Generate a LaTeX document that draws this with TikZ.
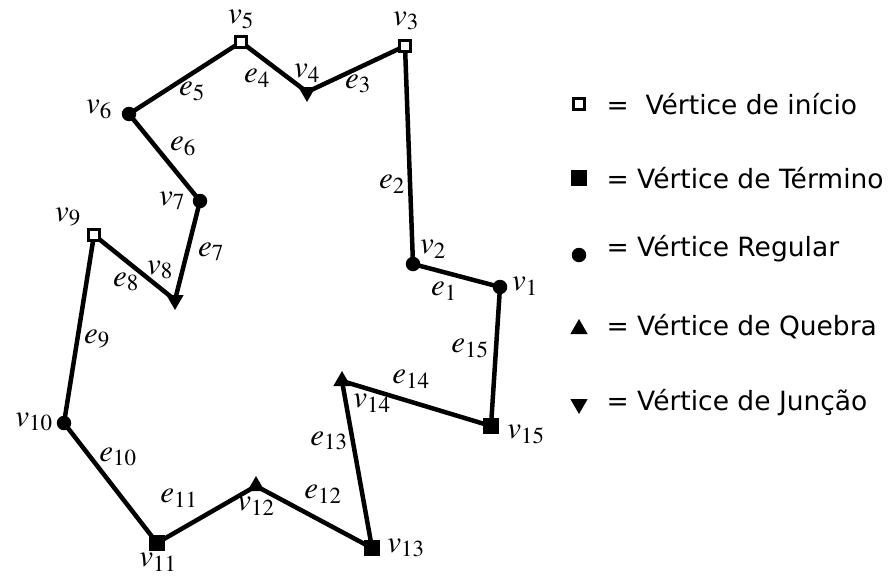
\documentclass[tikz,border=0pt]{standalone}
\usepackage{mathptmx}
\usepackage{fontspec}
\setsansfont{DejaVu Sans}
\usetikzlibrary{shapes.geometric,backgrounds}

\tikzset{
  inicio/.style={draw, line width=3.2pt, fill=white, minimum size=11pt, inner sep=0pt},
  termino/.style={fill=black, minimum size=15.5pt, inner sep=0pt},
  regular/.style={circle, fill=black, minimum size=14.5pt, inner sep=0pt},
  quebra/.style={regular polygon, regular polygon sides=3, fill=black, minimum size=20pt, inner sep=0pt},
  juncao/.style={quebra, shape border rotate=180},
  rot/.style={font=\fontsize{31}{35}\selectfont},
  leg/.style={anchor=west, font=\sffamily\fontsize{26.5}{32}\selectfont},
  aresta/.style={line width=4.5pt}
}

\begin{document}
\begin{tikzpicture}[x=1pt,y=-1pt]
  \useasboundingbox (0,0) rectangle (891,578);

  % vertices
  \node[regular] (v1) at (500,287) {};
  \node[regular] (v2) at (413,264) {};
  \node[inicio]  (v3) at (405,46) {};
  \node[juncao]  (v4) at (307,92) {};
  \node[inicio]  (v5) at (241,42) {};
  \node[regular] (v6) at (129,114) {};
  \node[regular] (v7) at (200,201) {};
  \node[juncao]  (v8) at (175,300) {};
  \node[inicio]  (v9) at (94,235) {};
  \node[regular] (v10) at (64,423) {};
  \node[termino] (v11) at (157,543) {};
  \node[quebra]  (v12) at (256,486) {};
  \node[termino] (v13) at (372,548) {};
  \node[quebra]  (v14) at (342,381) {};
  \node[termino] (v15) at (491,426) {};

  % arestas
  \begin{scope}[on background layer]
    \draw[aresta, line join=round] (v1.center) -- (v2.center) -- (v3.center) -- (v4.center)
      -- (v5.center) -- (v6.center) -- (v7.center) -- (v8.center) -- (v9.center)
      -- (v10.center) -- (v11.center) -- (v12.center) -- (v13.center) -- (v14.center)
      -- (v15.center) -- cycle;
  \end{scope}

  % rotulos dos vertices
  \node[rot] (lv1) at (525,286) {$v_1$};
  \node[rot] (lv2) at (433,249) {$v_2$};
  \node[rot] (lv3) at (406,21) {$v_3$};
  \node[rot] (lv4) at (307,73) {$v_4$};
  \node[rot] (lv5) at (241,19) {$v_5$};
  \node[rot] (lv6) at (99,109) {$v_6$};
  \node[rot] (lv7) at (172,201) {$v_7$};
  \node[rot] (lv8) at (160,270) {$v_8$};
  \node[rot] (lv9) at (68,217) {$v_9$};
  \node[rot] (lv10) at (34,422) {$v_{10}$};
  \node[rot] (lv11) at (158,562) {$v_{11}$};
  \node[rot] (lv12) at (256,506) {$v_{12}$};
  \node[rot] (lv13) at (406,548) {$v_{13}$};
  \node[rot] (lv14) at (372,403) {$v_{14}$};
  \node[rot] (lv15) at (526,434) {$v_{15}$};

  % rotulos das arestas
  \node[rot] (le1) at (444,291) {$e_1$};
  \node[rot] (le2) at (392,184) {$e_2$};
  \node[rot] (le3) at (358,84) {$e_3$};
  \node[rot] (le4) at (257,78) {$e_4$};
  \node[rot] (le5) at (192,91) {$e_5$};
  \node[rot] (le6) at (183,146) {$e_6$};
  \node[rot] (le7) at (211,252) {$e_7$};
  \node[rot] (le8) at (126,282) {$e_8$};
  \node[rot] (le9) at (97,339) {$e_9$};
  \node[rot] (le10) at (118,457) {$e_{10}$};
  \node[rot] (le11) at (179,498) {$e_{11}$};
  \node[rot] (le12) at (323,494) {$e_{12}$};
  \node[rot] (le13) at (329,441) {$e_{13}$};
  \node[rot] (le14) at (411,379) {$e_{14}$};
  \node[rot] (le15) at (470,348) {$e_{15}$};

  % legenda
  \node[inicio]  (s1) at (579,104) {};
  \node[termino] (s2) at (579,178) {};
  \node[regular] (s3) at (579,255) {};
  \node[quebra]  (s4) at (579,329) {};
  \node[juncao]  (s5) at (579,404) {};
  \node[leg] (t1) at (603,104) {=\ \ Vértice de início};
  \node[leg] (t2) at (603,178) {= Vértice de Término};
  \node[leg] (t3) at (603,249) {= Vértice Regular};
  \node[leg] (t4) at (603,327) {= Vértice de Quebra};
  \node[leg] (t5) at (603,403) {=\ Vértice de Junção};
\end{tikzpicture}
\end{document}
